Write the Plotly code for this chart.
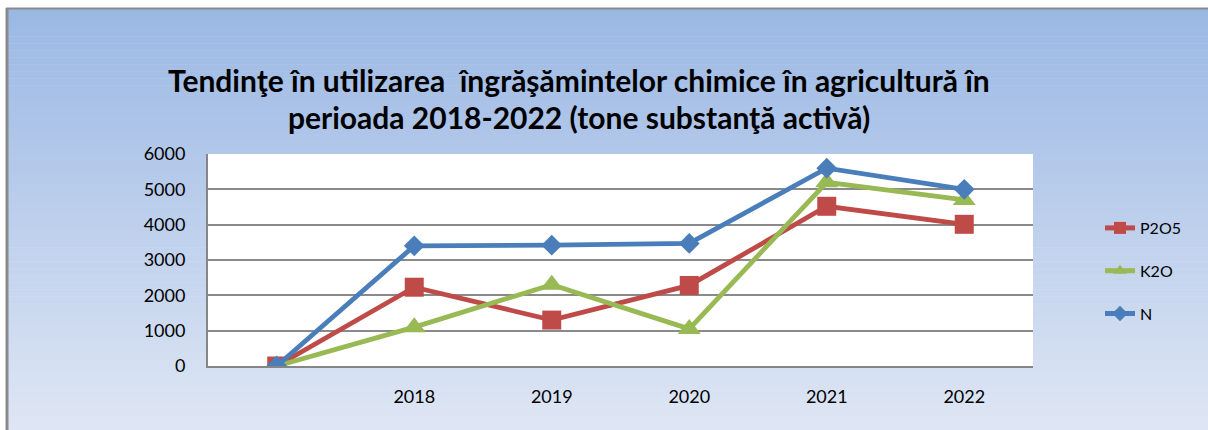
import plotly.graph_objects as go

# categories (first one is an empty slot, as in the original chart)
years = [" ", "2018", "2019", "2020", "2021", "2022"]
p2o5 = [0, 2230, 1300, 2280, 4520, 4010]
k2o = [0, 1100, 2300, 1050, 5200, 4700]
n = [0, 3400, 3420, 3470, 5600, 5000]

title_l1 = "Tendinţe în utilizarea  îngrăşămintelor chimice în agricultură în"
title_l2 = "perioada 2018-2022 (tone substanţă activă)"

W, H = 1208, 430
L, R, T, B = 208, 175, 154, 64
pw = W - L - R
ph = H - T - B


def fx(p):
    return (p - L) / pw


def fy(p):
    return (H - B - p) / ph


fig = go.Figure()

series = [
    ("P2O5", p2o5, "#be4b48", "square", 19),
    ("K2O", k2o, "#98b954", "triangle-up", 20),
    ("N", n, "#4a7ebb", "diamond", 16),
]
for name, vals, col, sym, sz in series:
    fig.add_trace(go.Scatter(
        x=years, y=vals, name=name, legendgroup=name,
        mode="lines+markers",
        line=dict(color=col, width=4.8),
        marker=dict(symbol=sym, size=sz, color=col, line=dict(width=0)),
    ))

# gradient background of the chart area
shapes = []
top, bot = 8, 430
c0 = (155, 184, 228)
c1 = (222, 230, 244)
steps = 60
for i in range(steps):
    t = i / (steps - 1)
    c = tuple(round(a + (b - a) * t) for a, b in zip(c0, c1))
    y0 = top + (bot - top) * i / steps
    y1 = top + (bot - top) * (i + 1) / steps + 0.5
    shapes.append(dict(type="rect", xref="paper", yref="paper",
                       x0=fx(6), x1=fx(W + 2), y0=fy(y0), y1=fy(y1),
                       fillcolor="rgb(%d,%d,%d)" % c, line_width=0, layer="below"))
# white plot area
shapes.append(dict(type="rect", xref="paper", yref="paper", x0=0, x1=1, y0=0, y1=1,
                   fillcolor="white", line_width=0, layer="below"))
# chart frame (left and top edges)
shapes.append(dict(type="line", xref="paper", yref="paper", x0=fx(7), x1=fx(7),
                   y0=fy(8), y1=fy(H + 2), line=dict(color="#8a8a8a", width=3), layer="below"))
shapes.append(dict(type="line", xref="paper", yref="paper", x0=fx(6), x1=fx(W + 2),
                   y0=fy(8.5), y1=fy(8.5), line=dict(color="#8a8a8a", width=2), layer="below"))

annotations = [
    dict(text="<b>" + title_l1 + "</b>", x=fx(579), y=fy(80), xref="paper", yref="paper",
         showarrow=False, xanchor="center", yanchor="middle",
         font=dict(family="Lato", size=30, color="black")),
    dict(text="<b>" + title_l2 + "</b>", x=fx(579), y=fy(117), xref="paper", yref="paper",
         showarrow=False, xanchor="center", yanchor="middle",
         font=dict(family="Lato", size=30, color="black")),
]

fig.update_layout(
    width=W, height=H,
    margin=dict(l=L, r=R, t=T, b=B),
    paper_bgcolor="white",
    plot_bgcolor="white",
    font=dict(family="Lato", size=18, color="black"),
    shapes=shapes,
    annotations=annotations,
    showlegend=True,
    legend=dict(x=fx(1100), xanchor="left", y=fy(271), yanchor="middle",
                bgcolor="rgba(0,0,0,0)", font=dict(size=16),
                tracegroupgap=19, itemsizing="constant"),
)
fig.update_xaxes(
    type="category", categoryorder="array", categoryarray=years,
    range=[-0.5, 5.5], showgrid=False, zeroline=False,
    showline=True, linecolor="#868686", linewidth=2,
    ticks="", ticklabelstandoff=13, tickfont=dict(size=18),
)
fig.update_yaxes(
    range=[0, 6000], dtick=1000, showgrid=True, gridcolor="#8a8a8a", gridwidth=2,
    zeroline=False, showline=True, linecolor="#868686", linewidth=2,
    ticks="", ticklabelstandoff=17, tickfont=dict(size=18),
)

fig.write_html("out.html", config={"displayModeBar": False},
               post_script="document.body.style.margin='0px';")
